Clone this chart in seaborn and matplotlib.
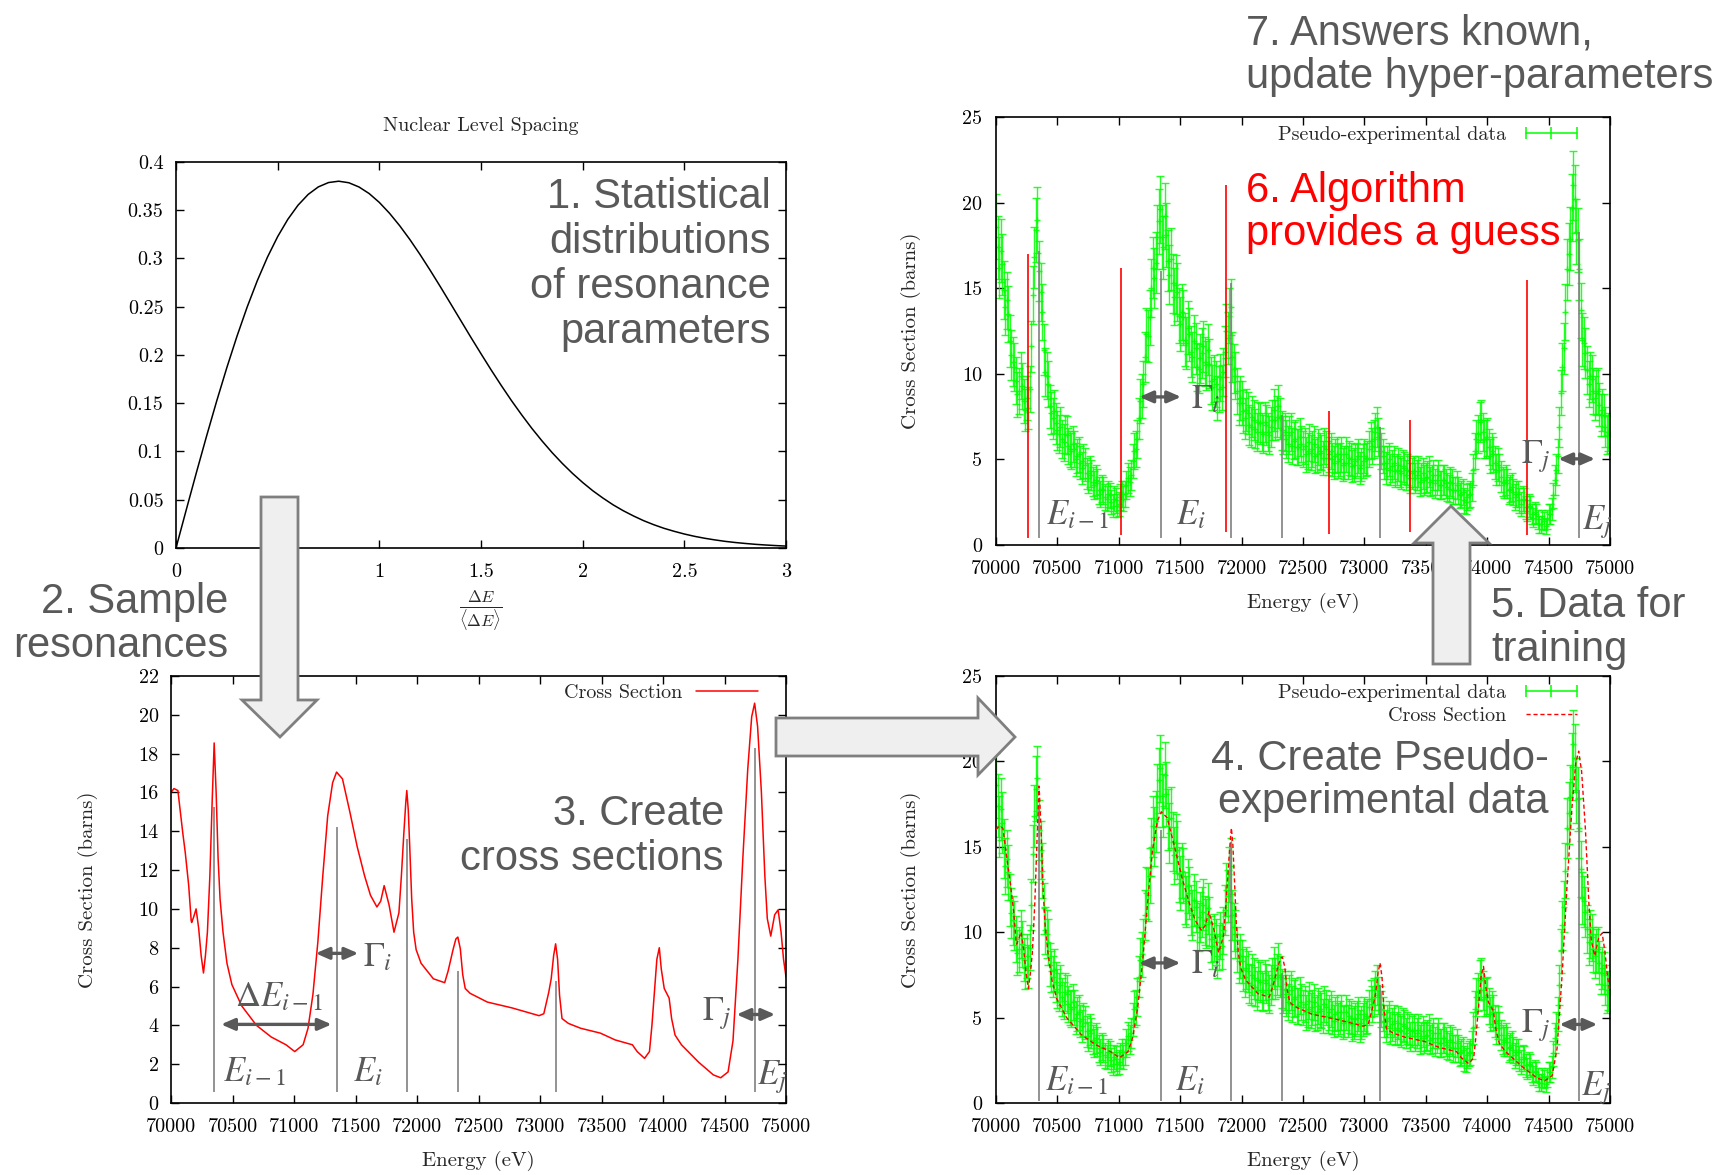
import numpy as np
import matplotlib
matplotlib.use("Agg")
import matplotlib.pyplot as plt
import seaborn as sns
from matplotlib.lines import Line2D
from matplotlib.patches import Polygon

# ---------------- level-spacing distribution ----------------
spacing_x = [0.0, 0.05, 0.1, 0.15, 0.2, 0.25, 0.3, 0.35, 0.4, 0.45, 0.5, 0.55, 0.6, 0.65,
             0.7, 0.75, 0.8, 0.85, 0.9, 0.95, 1.0, 1.05, 1.1, 1.15, 1.2, 1.25, 1.3, 1.35,
             1.4, 1.45, 1.5, 1.55, 1.6, 1.65, 1.7, 1.75, 1.8, 1.85, 1.9, 1.95, 2.0, 2.05,
             2.1, 2.15, 2.2, 2.25, 2.3, 2.35, 2.4, 2.45, 2.5, 2.55, 2.6, 2.65, 2.7, 2.75,
             2.8, 2.85, 2.9, 2.95, 3.0]
spacing_pdf = [0.0, 0.0392, 0.0779, 0.1157, 0.1522, 0.1869, 0.2195, 0.2497, 0.2771, 0.3015,
               0.3227, 0.3406, 0.3552, 0.3664, 0.3742, 0.3787, 0.3801, 0.3785, 0.3741, 0.3673,
               0.3581, 0.3469, 0.3340, 0.3197, 0.3042, 0.2878, 0.2708, 0.2534, 0.2359, 0.2184,
               0.2013, 0.1845, 0.1683, 0.1527, 0.1380, 0.1240, 0.1110, 0.0988, 0.0876, 0.0773,
               0.0679, 0.0593, 0.0517, 0.0447, 0.0386, 0.0332, 0.0283, 0.0241, 0.0204, 0.0173,
               0.0145, 0.0121, 0.0101, 0.0084, 0.0069, 0.0057, 0.0047, 0.0038, 0.0031, 0.0025,
               0.0020]
spacing_xticks = [0, 0.5, 1, 1.5, 2, 2.5, 3]
spacing_xticklabels = ["0", "0.5", "1", "1.5", "2", "2.5", "3"]
spacing_yticks = [0, 0.05, 0.1, 0.15, 0.2, 0.25, 0.3, 0.35, 0.4]
spacing_yticklabels = ["0", "0.05", "0.1", "0.15", "0.2", "0.25", "0.3", "0.35", "0.4"]

# ---------------- resonance cross section ----------------
xs_energy = [70000, 70024, 70056, 70096, 70116, 70144, 70164, 70168, 70185, 70204, 70225,
             70245, 70264, 70280, 70296, 70316, 70335, 70351, 70367, 70383, 70399, 70423,
             70455, 70495, 70575, 70695, 70815, 70935, 71006, 71074, 71114, 71154, 71194,
             71234, 71274, 71314, 71346, 71394, 71454, 71514, 71574, 71622, 71674, 71705,
             71733, 71773, 71813, 71853, 71873, 71893, 71909, 71917, 71929, 71941, 71957,
             71973, 71993, 72033, 72133, 72225, 72253, 72293, 72316, 72332, 72352, 72372,
             72392, 72432, 72572, 72772, 72992, 73031, 73071, 73091, 73111, 73127, 73143,
             73159, 73179, 73231, 73331, 73491, 73611, 73751, 73790, 73850, 73890, 73910,
             73930, 73950, 73970, 73986, 74010, 74050, 74070, 74098, 74150, 74290, 74409,
             74469, 74529, 74569, 74609, 74649, 74689, 74721, 74745, 74769, 74800, 74828,
             74848, 74876, 74908, 74936, 74960, 74980, 75000]
xs_sigma = [16.0, 16.2, 16.1, 13.9, 12.9, 11.2, 9.4, 9.3, 9.6, 10.0, 9.0,
            7.6, 6.7, 7.6, 8.8, 11.7, 15.6, 18.55, 16.0, 12.6, 10.5, 8.8,
            7.2, 6.1, 5.0, 4.0, 3.4, 3.0, 2.65, 3.0, 3.85, 5.6, 8.3,
            11.7, 14.8, 16.5, 17.05, 16.7, 15.0, 13.2, 11.7, 10.7, 10.1, 10.4,
            11.2, 10.2, 8.8, 9.8, 11.7, 13.9, 15.5, 16.1, 15.1, 13.2, 10.5,
            8.8, 7.9, 7.2, 6.4, 6.2, 6.8, 7.9, 8.45, 8.55, 7.95, 6.6,
            5.9, 5.65, 5.2, 4.9, 4.5, 4.6, 5.7, 6.4, 7.6, 8.2, 7.4,
            5.55, 4.35, 4.1, 3.85, 3.6, 3.25, 3.0, 2.65, 2.3, 2.65, 4.0,
            5.7, 7.4, 8.0, 6.9, 5.9, 5.4, 4.35, 3.5, 3.0, 2.1, 1.45,
            1.3, 1.6, 3.2, 7.4, 12.6, 17.2, 19.9, 20.6, 19.4, 16.0, 11.7,
            9.5, 8.6, 9.7, 9.95, 8.8, 7.4, 6.5]

# true resonance energies and the marker heights drawn in each panel
res_energy = [70351, 71346, 71917, 72332, 73127, 74744]
res_top_xs = [15.25, 14.2, 13.6, 6.8, 6.3, 18.3]
res_top_exp = [17.2, 16.0, 15.3, 7.6, 6.9, 18.3]

# resonance energies proposed by the algorithm
guess_energy = [70264, 71015, 71876, 72711, 73370, 74328]
guess_top = [17.0, 16.2, 21.0, 7.8, 7.3, 15.5]
guess_bottom = [0.4, 0.6, 0.76, 0.64, 0.76, 0.56]

# ---------------- pseudo-experimental data ----------------
# points on the 25 eV grid (70000 ... 75000)
exp_energy_a = np.arange(70000, 75001, 25)
exp_sigma_a = [
    18.6, 16.2, 16.4, 13.9, 13.5, 11.1, 10.4, 8.8, 9.9, 8.4,          # 70000-70225
    8.6, 9.1, 14.6, 18.4, 16.0, 13.6, 10.1, 9.4, 7.7, 7.8,            # 70250-70475
    6.7, 6.9, 6.0, 6.4, 5.6, 5.9, 5.0, 5.3, 4.5, 4.7,                 # 70500-70725
    3.9, 4.1, 3.5, 3.6, 3.0, 3.2, 2.7, 2.9, 2.3, 2.6,                 # 70750-70975
    2.4, 3.0, 3.0, 3.9, 4.1, 5.5, 6.2, 8.4, 9.4, 12.3,                # 71000-71225
    13.3, 16.2, 16.5, 18.9, 18.0, 19.2, 16.6, 16.7, 14.5, 14.8,       # 71250-71475
    12.9, 13.3, 11.8, 12.3, 11.0, 11.5, 10.3, 11.2, 10.7, 11.4,       # 71500-71725
    9.6, 9.7, 8.6, 9.8, 10.1, 12.5, 13.4, 11.0, 9.9, 8.3,             # 71750-71975
    8.3, 7.4, 7.7, 6.9, 7.3, 6.6, 7.1, 6.5, 7.0, 6.4,                 # 72000-72225
    7.3, 7.3, 8.1, 6.7, 6.6, 5.9, 6.6, 6.1, 5.7, 6.3,                 # 72250-72475
    5.6, 5.3, 6.0, 5.6, 5.2, 5.7, 5.4, 5.8, 5.1, 5.5,                 # 72500-72725
    4.8, 5.3, 5.0, 4.7, 5.3, 5.1, 4.6, 4.9, 5.2, 4.7,                 # 72750-72975
    5.2, 5.1, 6.1, 6.2, 6.9, 5.8, 5.2, 4.5, 5.0, 4.6,                 # 73000-73225
    4.3, 4.7, 4.2, 4.5, 4.4, 3.9, 4.3, 4.1, 3.7, 4.2,                 # 73250-73475
    3.9, 4.3, 3.8, 3.6, 4.1, 3.5, 3.8, 3.4, 3.7, 3.2,                 # 73500-73725
    3.5, 2.9, 3.1, 2.5, 2.9, 3.4, 5.5, 6.5, 7.3, 6.2,                 # 73750-73975
    6.3, 5.2, 5.3, 4.4, 4.4, 3.7, 3.8, 3.2, 3.4, 2.8,                 # 74000-74225
    3.0, 2.4, 2.6, 2.0, 2.2, 1.6, 1.8, 1.2, 1.5, 1.1,                 # 74250-74475
    1.8, 2.1, 3.8, 5.2, 8.9, 11.5, 16.1, 17.9, 21.0, 18.3,            # 74500-74725
    16.1, 12.0, 11.2, 9.4, 9.7, 8.6, 9.0, 7.6, 7.6, 6.4,              # 74750-74975
    6.5,                                                              # 75000
]
# points half-way between (70012.5 ... 74987.5)
exp_energy_b = np.arange(70012.5, 75000, 25)
exp_sigma_b = [
    17.4, 17.2, 14.9, 14.3, 11.9, 10.7, 9.6, 9.0, 9.3, 7.9,
    8.0, 11.6, 16.8, 19.0, 14.8, 11.4, 9.9, 8.1, 7.4, 7.1,
    6.5, 6.2, 6.5, 5.8, 5.5, 5.6, 5.2, 4.8, 4.9, 4.2,
    4.3, 3.7, 3.8, 3.2, 3.3, 2.8, 3.0, 2.5, 2.7, 2.3,
    2.8, 2.7, 3.5, 3.7, 4.9, 5.6, 7.4, 8.7, 11.0, 12.2,
    15.0, 15.6, 18.0, 19.6, 17.4, 18.1, 15.8, 15.3, 15.2, 13.4,
    13.6, 12.0, 12.7, 11.3, 11.9, 10.4, 10.9, 11.6, 10.5, 10.6,
    9.2, 9.4, 9.1, 9.2, 11.3, 12.1, 13.9, 10.3, 9.0, 8.6,
    7.8, 7.9, 7.0, 7.5, 6.8, 7.2, 6.6, 7.2, 6.6, 6.9,
    7.9, 7.5, 7.4, 6.4, 6.2, 6.4, 5.8, 6.2, 5.7, 5.9,
    5.8, 5.5, 5.4, 5.9, 5.3, 5.5, 5.1, 5.6, 5.3, 5.0,
    5.2, 4.9, 5.3, 4.8, 4.8, 5.0, 4.7, 5.0, 4.5, 4.9,
    5.0, 5.6, 5.8, 6.6, 6.3, 5.5, 4.8, 4.8, 4.4, 4.8,
    4.4, 4.3, 4.6, 4.1, 4.3, 4.2, 3.9, 4.3, 3.9, 3.8,
    4.0, 3.7, 4.1, 3.8, 3.5, 3.8, 3.6, 3.3, 3.6, 3.2,
    3.2, 3.0, 2.6, 2.8, 3.0, 4.4, 6.2, 7.2, 6.6, 6.2,
    5.7, 5.5, 4.8, 4.7, 4.0, 3.6, 3.6, 3.3, 3.1, 3.0,
    2.6, 2.7, 2.2, 2.3, 1.8, 1.9, 1.5, 1.2, 1.4, 1.5,
    1.8, 2.9, 4.4, 6.9, 10.4, 13.6, 17.0, 19.7, 20.2, 17.8,
    13.7, 11.8, 10.2, 9.9, 9.0, 8.9, 8.2, 7.9, 6.9, 6.6,
]
exp_energy = np.concatenate([exp_energy_a, exp_energy_b])
exp_sigma = np.concatenate([exp_sigma_a, exp_sigma_b])
# counting-statistics style uncertainty
exp_err = 0.44 * np.sqrt(exp_sigma)

energy_ticks = list(range(70000, 75001, 500))
energy_ticklabels = [str(t) for t in energy_ticks]
xs_yticks = list(range(0, 23, 2))
exp_yticks = [0, 5, 10, 15, 20, 25]

# ---------------- styling ----------------
sns.set_style("ticks")
plt.rcParams["font.family"] = ["cmr10", "DejaVu Serif"]
plt.rcParams["axes.unicode_minus"] = False
plt.rcParams["axes.formatter.use_mathtext"] = True
plt.rcParams["mathtext.fontset"] = "stix"

W, H = 1729, 1175
GRAY_TXT = "#595959"
LINE_GRAY = "#808080"
GREEN = "#00ff00"
BIG = dict(family=["Liberation Sans", "DejaVu Sans"], fontsize=30, color=GRAY_TXT)
TICK_FS = 14.5
ANN_FS = 25

fig = plt.figure(figsize=(W / 100, H / 100), dpi=100)
fig.patch.set_facecolor("white")


def px_rect(left, top, right, bottom):
    return [left / W, 1 - bottom / H, (right - left) / W, (bottom - top) / H]


def ftext(x, y, s, **kw):
    return fig.text(x / W, 1 - y / H, s, **kw)


def style_axes(ax, xpad=11, ypad=9):
    for sp in ax.spines.values():
        sp.set_linewidth(1.2)
        sp.set_color("black")
        sp.set_visible(True)
    ax.tick_params(which="both", direction="in", top=True, right=True,
                   length=6, width=1, labelsize=TICK_FS, colors="black")
    ax.tick_params(axis="x", pad=xpad)
    ax.tick_params(axis="y", pad=ypad)
    ax.set_facecolor("white")


def dbl_arrow(ax, x0, x1, y):
    ax.annotate("", xy=(x1, y), xytext=(x0, y),
                arrowprops=dict(arrowstyle="<|-|>,head_length=0.8,head_width=0.35",
                                color=GRAY_TXT, lw=2.4, shrinkA=0, shrinkB=0,
                                mutation_scale=10), zorder=6)


def ann(ax, x, y, s, ha="left"):
    ax.text(x, y, s, ha=ha, va="center", fontsize=ANN_FS, color=GRAY_TXT, zorder=6)


def energy_axis(ax, ymax, yticks):
    ax.set_xlim(70000, 75000)
    ax.set_ylim(0, ymax)
    ax.set_xticks(energy_ticks)
    ax.set_xticklabels(energy_ticklabels)
    ax.set_yticks(yticks)
    ax.set_yticklabels([str(t) for t in yticks])
    ax.set_xlabel("Energy (eV)", fontsize=15)
    ax.set_ylabel("Cross Section (barns)", fontsize=15)
    ax.xaxis.set_label_coords(0.5, -0.112)


# ---------------- panel 1: level spacing ----------------
ax1 = fig.add_axes(px_rect(176, 162, 786, 548))
sns.lineplot(x=spacing_x, y=spacing_pdf, ax=ax1, color="black", lw=1.1)
ax1.set_xlim(0, 3)
ax1.set_ylim(0, 0.4)
ax1.set_xticks(spacing_xticks)
ax1.set_xticklabels(spacing_xticklabels)
ax1.set_yticks(spacing_yticks)
ax1.set_yticklabels(spacing_yticklabels)
style_axes(ax1, xpad=11, ypad=9)
ax1.set_xlabel(r"$\frac{\Delta E}{\langle\Delta E\rangle}$", fontsize=17, math_fontfamily="cm")
ax1.xaxis.set_label_coords(0.5, -0.105)
ax1.set_ylabel("")
ftext(481, 126, "Nuclear Level Spacing", ha="center", va="center", fontsize=14.5)

# ---------------- panel 2: cross section ----------------
ax2 = fig.add_axes(px_rect(171, 676, 786, 1103))
sns.lineplot(x=xs_energy, y=xs_sigma, ax=ax2, color="red", lw=1.1)
ax2.vlines(res_energy, 0.55, res_top_xs, colors=LINE_GRAY, lw=1.2, zorder=3)
energy_axis(ax2, 22, xs_yticks)
style_axes(ax2, xpad=11, ypad=9)
ax2.yaxis.set_label_coords(-0.119, 0.5)
ax2.legend(handles=[Line2D([0], [0], color="red", lw=1.1)], labels=["Cross Section"],
           loc="upper right", bbox_to_anchor=(0.955, 0.982), frameon=False,
           markerfirst=False, handlelength=3.1, handletextpad=0.7, borderpad=0,
           borderaxespad=0, fontsize=TICK_FS)
dbl_arrow(ax2, 70407, 71306, 4.05)
dbl_arrow(ax2, 71176, 71523, 7.71)
dbl_arrow(ax2, 74598, 74912, 4.56)
ann(ax2, 70880, 5.45, r"$\Delta E_{i-1}$", ha="center")
ann(ax2, 70420, 1.6, r"$E_{i-1}$")
ann(ax2, 71480, 1.6, r"$E_i$")
ann(ax2, 71561, 7.5, r"$\Gamma_i$")
ann(ax2, 74560, 4.6, r"$\Gamma_j$", ha="right")
ann(ax2, 74765, 1.35, r"$E_j$")

# ---------------- panels 3 & 4: pseudo-experimental data ----------------
exp_handle = Line2D([0], [0], color=GREEN, lw=1.1, marker="|", markersize=8, mew=1.1)
dash_handle = Line2D([0], [0], color="red", lw=1.0, linestyle=(0, (3, 2)))

ax3 = fig.add_axes(px_rect(996, 117, 1610, 545))
ax4 = fig.add_axes(px_rect(996, 676, 1610, 1103))
for ax, res_bottom in ((ax3, 0.4), (ax4, 0.1)):
    ax.errorbar(exp_energy, exp_sigma, yerr=exp_err, fmt="+", color=GREEN, ms=4, mew=1,
                elinewidth=1, capsize=3, capthick=1, alpha=0.85, zorder=2)
    ax.vlines(res_energy, res_bottom, res_top_exp, colors=LINE_GRAY, lw=1.2, zorder=4)
    energy_axis(ax, 25, exp_yticks)
    style_axes(ax, xpad=11, ypad=10)
    ax.yaxis.set_label_coords(-0.122, 0.5)

ax3.vlines(guess_energy, guess_bottom, guess_top, colors="red", lw=1.2, zorder=5)
ax3.legend(handles=[exp_handle], labels=["Pseudo-experimental data"], numpoints=3,
           loc="upper right", bbox_to_anchor=(0.9555, 0.979), frameon=False,
           markerfirst=False, handlelength=3.1, handletextpad=0.7, borderpad=0,
           borderaxespad=0, fontsize=TICK_FS)
dbl_arrow(ax3, 71167, 71507, 8.65)
dbl_arrow(ax3, 74579, 74878, 5.03)
ann(ax3, 70407, 1.76, r"$E_{i-1}$")
ann(ax3, 71466, 1.76, r"$E_i$")
ann(ax3, 71588, 8.5, r"$\Gamma_i$")
ann(ax3, 74515, 5.15, r"$\Gamma_j$", ha="right")
ann(ax3, 74769, 1.36, r"$E_j$")

sns.lineplot(x=xs_energy, y=xs_sigma, ax=ax4, color="red", lw=1.0,
             linestyle=(0, (3, 2)), zorder=5)
ax4.legend(handles=[exp_handle, dash_handle],
           labels=["Pseudo-experimental data", "Cross Section"], numpoints=3,
           loc="upper right", bbox_to_anchor=(0.9555, 0.981), frameon=False,
           markerfirst=False, handlelength=3.1, handletextpad=0.7, borderpad=0,
           borderaxespad=0, labelspacing=0.22, fontsize=TICK_FS)
dbl_arrow(ax4, 71163, 71502, 8.2)
dbl_arrow(ax4, 74588, 74897, 4.6)
ann(ax4, 70399, 1.29, r"$E_{i-1}$")
ann(ax4, 71458, 1.29, r"$E_i$")
ann(ax4, 71588, 8.1, r"$\Gamma_i$")
ann(ax4, 74519, 4.56, r"$\Gamma_j$", ha="right")
ann(ax4, 74764, 0.88, r"$E_j$")

# ---------------- workflow arrows ----------------
arrow_shapes = [
    [(261, 497), (298, 497), (298, 700), (317, 700), (280, 737), (242, 700), (261, 700)],
    [(776, 718), (978, 718), (978, 698), (1015, 737), (978, 775), (978, 756), (776, 756)],
    [(1433, 664), (1470, 664), (1470, 543), (1489, 543), (1451, 506), (1414, 543), (1433, 543)],
]
for shape in arrow_shapes:
    verts = [(x / W, 1 - y / H) for x, y in shape]
    fig.add_artist(Polygon(verts, closed=True, transform=fig.transFigure,
                           facecolor="#efefef", edgecolor="#7f7f7f", lw=2, zorder=20))

# ---------------- step captions ----------------
for y, s in zip([208, 253, 298, 343],
                ["1. Statistical", "distributions", "of resonance", "parameters"]):
    ftext(771, y, s, ha="right", va="baseline", **BIG)
for y, s in zip([613, 657], ["2. Sample", "resonances"]):
    ftext(228, y, s, ha="right", va="baseline", **BIG)
for y, s in zip([825, 870], ["3. Create", "cross sections"]):
    ftext(724, y, s, ha="right", va="baseline", **BIG)
for y, s in zip([770, 813], ["4. Create Pseudo-", "experimental data"]):
    ftext(1549, y, s, ha="right", va="baseline", **BIG)
for y, s in zip([617, 661], ["5. Data for", "training"]):
    ftext(1491, y, s, ha="left", va="baseline", **BIG)
for y, s in zip([202, 245], ["6. Algorithm", "provides a guess"]):
    ftext(1246, y, s, ha="left", va="baseline",
          **{**BIG, "color": "#ff0000"})
for y, s in zip([45, 88], ["7. Answers known,", "update hyper-parameters"]):
    ftext(1246, y, s, ha="left", va="baseline", **BIG)

fig.savefig("out.png", dpi=100, facecolor="white")
